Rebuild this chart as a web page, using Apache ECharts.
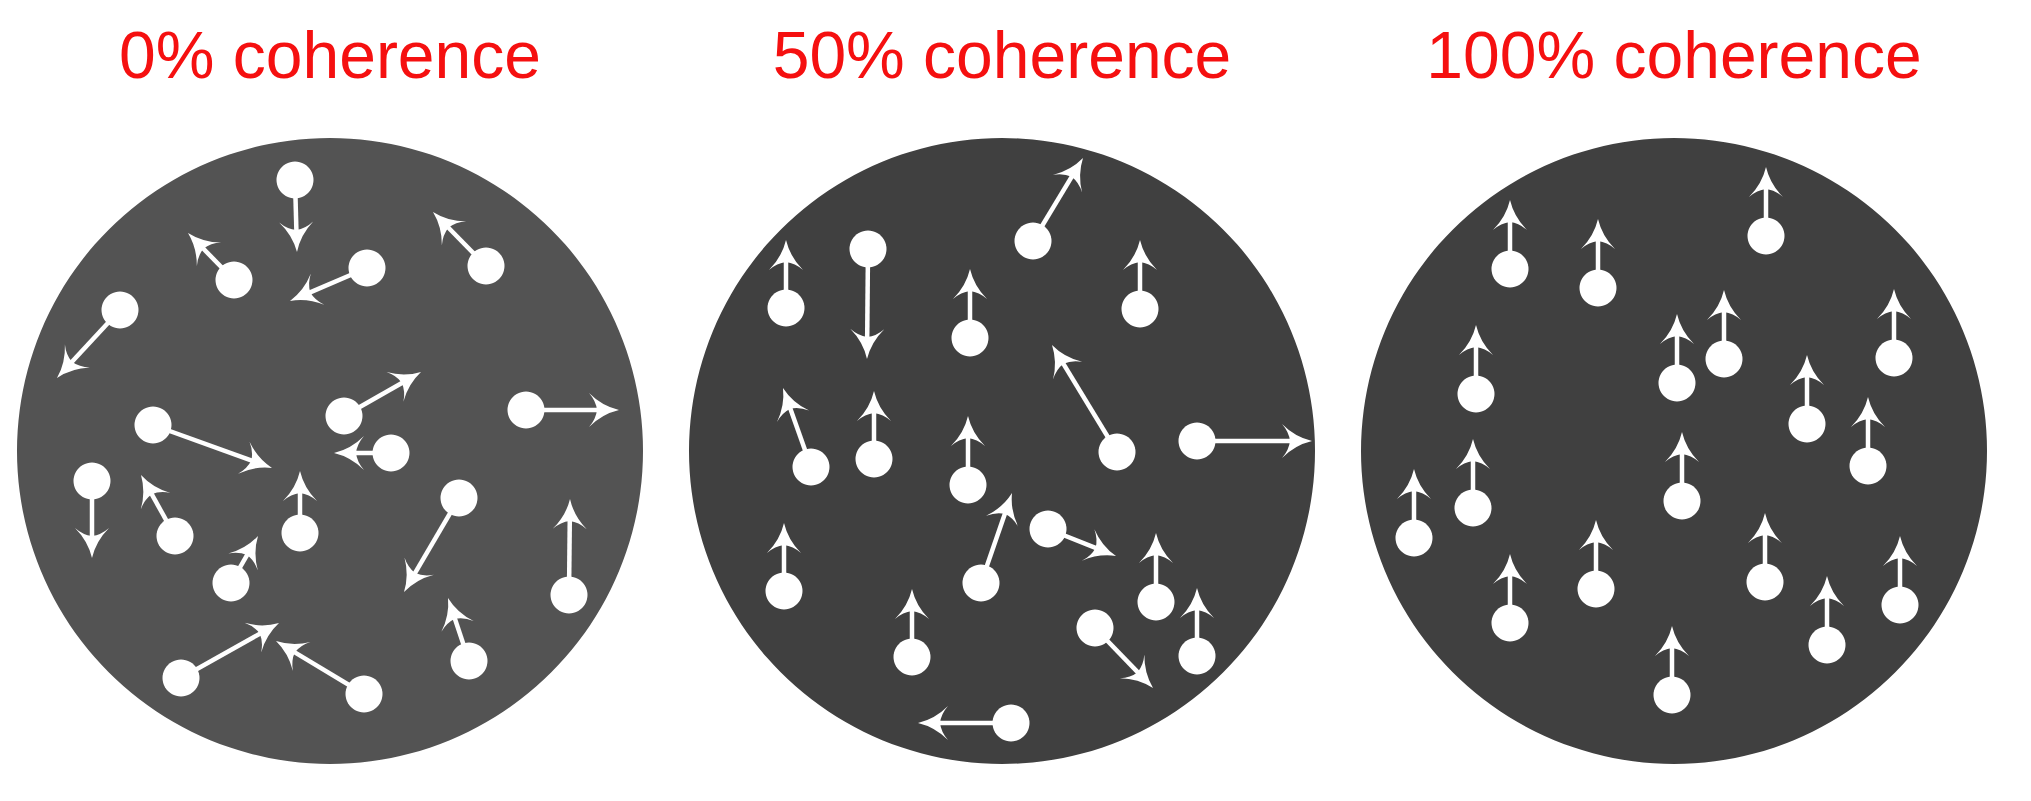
<!DOCTYPE html>
<html>
<head>
<meta charset="utf-8">
<title>Random dot motion coherence</title>
<script src="https://cdn.jsdelivr.net/npm/echarts@6/dist/echarts.min.js"></script>
<style>
  html, body { margin: 0; padding: 0; background: #fff; }
  #main { width: 2031px; height: 801px; }
</style>
</head>
<body>
<div id="main"></div>
<script>
// panel titles
const titles = ['0% coherence', '50% coherence', '100% coherence'];

// aperture centres and radius, in figure units (1 unit = 1 px)
const centersX = [330, 1002, 1674];
const centerY = 350;
const apertureR = 313;

// 0% coherence: dot position (relative to aperture centre) and motion vector
const dots0X = [-35, -96, 37, 156, -210, -177, 14, 61, 196, -238, -155, -30, 129, -99, 239, 139, -149, 34];
const dots0Y = [271, 171, 183, 185, 141, 26, 35, -2, 41, -30, -85, -82, -47, -132, -144, -210, -227, -243];
const moves0U = [2, -46, -77, -53, -63, 119, 77, -57, 93, 0, -34, 0, -55, 27, 1, -21, 98, -88];
const moves0V = [-72, 47, -33, 54, -68, -43, 44, 0, 0, -77, 61, 62, -94, 47, 96, 63, 55, 53];

// 50% coherence
const dots1X = [-216, -134, 31, 138, -32, 115, 195, -191, -128, -34, -218, -21, 46, 154, -90, 195, 93, 9];
const dots1Y = [143, 202, 210, 142, 113, -1, 10, -16, -8, -34, -140, -132, -78, -151, -206, -205, -177, -272];
const moves1U = [0, -1, 50, 0, 0, -65, 115, -28, 0, 0, 0, 31, 68, 0, 0, 0, 58, -93];
const moves1V = [68, -110, 83, 69, 69, 107, 0, 79, 68, 69, 68, 90, -27, 69, 68, 68, -60, 0];

// 100% coherence
const dots2X = [-164, -76, 92, -198, 3, 50, 220, 133, 194, -201, 8, -260, -78, 91, 226, -164, 153, -2];
const dots2Y = [182, 163, 215, 57, 68, 92, 93, 27, -15, -57, -50, -87, -138, -131, -154, -172, -194, -244];
const moves2U = [0, 0, 0, 0, 0, 0, 0, 0, 0, 0, 0, 0, 0, 0, 0, 0, 0, 0];
const moves2V = [69, 69, 69, 69, 69, 69, 69, 69, 69, 69, 69, 69, 69, 69, 69, 69, 69, 69];

const panels = [
  [dots0X, dots0Y, moves0U, moves0V],
  [dots1X, dots1Y, moves1U, moves1V],
  [dots2X, dots2Y, moves2U, moves2V]
];

const apertureColors = ['#535353', '#404040', '#404040'];
const titleColor = '#f51010';
const titleY = 746.5;
const dotR = 18.5;

var chart = echarts.init(document.getElementById('main'), null, {renderer: 'svg'});

// build series data from the arrays
var apertureData = [];
var titleData = [];
var dotData = [];
for (var p = 0; p < panels.length; p++) {
  apertureData.push([centersX[p], centerY, apertureR, p]);
  titleData.push([centersX[p], titleY, p]);
  var xs = panels[p][0], ys = panels[p][1], us = panels[p][2], vs = panels[p][3];
  for (var i = 0; i < xs.length; i++) {
    var x = centersX[p] + xs[i];
    var y = centerY + ys[i];
    dotData.push([x, y, x + us[i], y + vs[i]]);
  }
}

function renderAperture(params, api) {
  var c = api.coord([api.value(0), api.value(1)]);
  var r = api.size([api.value(2), 0])[0];
  return {
    type: 'circle',
    shape: {cx: c[0], cy: c[1], r: r},
    style: {fill: apertureColors[api.value(3)]}
  };
}

function renderTitle(params, api) {
  var c = api.coord([api.value(0), api.value(1)]);
  return {
    type: 'text',
    x: c[0],
    y: c[1],
    style: {
      text: titles[api.value(2)],
      fill: titleColor,
      font: '66px "Liberation Sans", Arial, sans-serif',
      align: 'center',
      verticalAlign: 'middle'
    }
  };
}

function renderDot(params, api) {
  var p0 = api.coord([api.value(0), api.value(1)]);
  var p1 = api.coord([api.value(2), api.value(3)]);
  var dx = p1[0] - p0[0], dy = p1[1] - p0[1];
  var len = Math.sqrt(dx * dx + dy * dy);
  var ux = dx / len, uy = dy / len;
  var nx = -uy, ny = ux;
  // point in arrowhead frame: a along the arrow (0 = tip), b sideways
  function pt(a, b) {
    return (p1[0] + ux * a + nx * b).toFixed(2) + ' ' + (p1[1] + uy * a + ny * b).toFixed(2);
  }
  var head = 'M' + pt(0, 0) +
    'Q' + pt(-17, 4) + ' ' + pt(-30, 17) +
    'Q' + pt(-23, 9) + ' ' + pt(-22, 0) +
    'Q' + pt(-23, -9) + ' ' + pt(-30, -17) +
    'Q' + pt(-17, -4) + ' ' + pt(0, 0) + 'Z';
  var r = api.size([dotR, 0])[0];
  return {
    type: 'group',
    children: [
      {
        type: 'line',
        shape: {x1: p0[0], y1: p0[1], x2: p1[0] - ux * 20, y2: p1[1] - uy * 20},
        style: {stroke: '#fff', lineWidth: 4.5}
      },
      {type: 'path', shape: {pathData: head}, style: {fill: '#fff'}},
      {type: 'circle', shape: {cx: p0[0], cy: p0[1], r: r}, style: {fill: '#fff'}}
    ]
  };
}

var option = {
  animation: false,
  grid: {left: 0, right: 0, top: 0, bottom: 0},
  xAxis: {type: 'value', min: 0, max: 2031, show: false},
  yAxis: {type: 'value', min: 0, max: 801, show: false},
  series: [
    {type: 'custom', name: 'aperture', silent: true, renderItem: renderAperture, data: apertureData},
    {type: 'custom', name: 'title', silent: true, renderItem: renderTitle, data: titleData},
    {type: 'custom', name: 'dots', silent: true, renderItem: renderDot, data: dotData}
  ]
};
chart.setOption(option);
</script>
</body>
</html>
